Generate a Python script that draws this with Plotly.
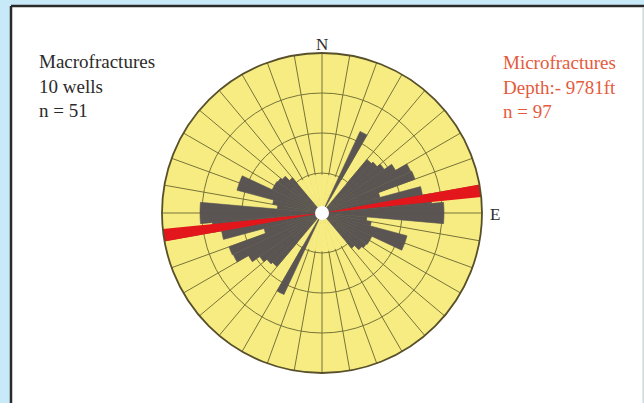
import plotly.graph_objects as go

# 5-degree bins (0-180), mirrored to 180-360 (bidirectional strikes)
bin_centers = [2.5, 7.5, 12.5, 17.5, 22.5, 27.5, 32.5, 37.5, 42.5, 47.5, 52.5, 57.5,
               62.5, 67.5, 72.5, 77.5, 82.5, 87.5, 92.5, 97.5, 102.5, 107.5, 112.5, 117.5,
               122.5, 127.5, 132.5, 137.5, 142.5, 147.5, 152.5, 157.5, 162.5, 167.5, 172.5, 177.5]
macro_lengths = [0, 0, 0, 0, 0, 90, 0, 0, 70, 72, 76, 85,
                 98, 99, 60, 102, 110, 122, 122, 45, 50, 88, 88, 55,
                 55, 54, 52, 46, 0, 0, 0, 0, 0, 0, 0, 0]
micro_theta = [82]
micro_length = [160]
ring_values = [40, 80, 120]
left_text = ["Macrofractures", "10 wells", "n = 51"]
right_text = ["Microfractures", "Depth:- 9781ft", "n = 97"]

R_MAX = 160
YELLOW = "#f7ec82"
GRAY = "#5a5552"
RED = "#e3161c"
GRID = "#77733a"
FONT = "Liberation Serif"

theta_all = bin_centers + [t + 180 for t in bin_centers]
r_all = macro_lengths + macro_lengths
micro_t_all = micro_theta + [t + 180 for t in micro_theta]
micro_r_all = micro_length + micro_length

fig = go.Figure()

# yellow inner disk hiding the spokes inside the first ring
cover_theta = [5 + 10 * i for i in range(36)]
fig.add_trace(go.Barpolar(r=[ring_values[0] - 2] * 36, theta=cover_theta, width=[10] * 36,
                          marker=dict(color=YELLOW, line=dict(color=YELLOW, width=0.6)),
                          hoverinfo="skip", showlegend=False))
fig.add_trace(go.Barpolar(r=r_all, theta=theta_all, width=[5] * len(theta_all),
                          marker=dict(color=GRAY, line=dict(color=GRAY, width=0.6)),
                          name="Macrofractures", showlegend=False))
fig.add_trace(go.Barpolar(r=micro_r_all, theta=micro_t_all, width=[4.5] * len(micro_t_all),
                          marker=dict(color=RED, line=dict(width=0)),
                          name="Microfractures", showlegend=False))
fig.add_trace(go.Scatterpolar(r=[0], theta=[0], mode="markers",
                              marker=dict(color="white", size=14, line=dict(width=0)),
                              hoverinfo="skip", showlegend=False))

W, H = 644, 403
cx, cy = 322, 213
fig.update_layout(
    width=W, height=H,
    margin=dict(l=0, r=0, t=0, b=0),
    paper_bgcolor="#c8eaf8",
    showlegend=False,
    polar=dict(
        domain=dict(x=[(cx - R_MAX) / W, (cx + R_MAX) / W],
                    y=[(H - cy - R_MAX) / H, (H - cy + R_MAX) / H]),
        bgcolor=YELLOW,
        bargap=0,
        radialaxis=dict(range=[0, R_MAX], tickvals=ring_values, showticklabels=False,
                        ticks="", showline=False, gridcolor=GRID, gridwidth=1),
        angularaxis=dict(rotation=90, direction="clockwise", tickmode="linear", tick0=0,
                         dtick=10, showticklabels=False, ticks="",
                         gridcolor=GRID, gridwidth=1,
                         showline=True, linecolor="#57502a", linewidth=1.8),
    ),
    shapes=[
        dict(type="rect", xref="paper", yref="paper", x0=11 / W, x1=643 / W, y0=-0.01, y1=1 - 6 / H,
             fillcolor="white", line=dict(width=0), layer="below"),
        dict(type="line", xref="paper", yref="paper", x0=11 / W, x1=11 / W, y0=-0.01, y1=1 - 6 / H,
             line=dict(color="#2a2a2a", width=2.5), layer="below"),
        dict(type="line", xref="paper", yref="paper", x0=11 / W, x1=1, y0=1 - 6 / H, y1=1 - 6 / H,
             line=dict(color="#2a2a2a", width=2.5), layer="below"),
        dict(type="line", xref="paper", yref="paper", x0=643 / W, x1=643 / W, y0=-0.01, y1=1 - 7 / H,
             line=dict(color="#cfcfcf", width=1), layer="below"),
    ],
    annotations=[
        dict(text="<br>".join(left_text), x=37 / W, y=1 - 86 / H, xref="paper", yref="paper",
             xanchor="left", yanchor="middle", align="left", showarrow=False,
             font=dict(family=FONT, size=19, color="#2b2b2b")),
        dict(text="<br>".join(right_text), x=501 / W, y=1 - 87 / H, xref="paper", yref="paper",
             xanchor="left", yanchor="middle", align="left", showarrow=False,
             font=dict(family=FONT, size=19, color="#e45a3c")),
        dict(text="N", x=322 / W, y=1 - 44 / H, xref="paper", yref="paper",
             xanchor="center", yanchor="middle", showarrow=False,
             font=dict(family=FONT, size=17, color="#2b2b2b")),
        dict(text="E", x=495 / W, y=1 - 214 / H, xref="paper", yref="paper",
             xanchor="center", yanchor="middle", showarrow=False,
             font=dict(family=FONT, size=17, color="#2b2b2b")),
    ],
)

fig.write_html("out.html")
